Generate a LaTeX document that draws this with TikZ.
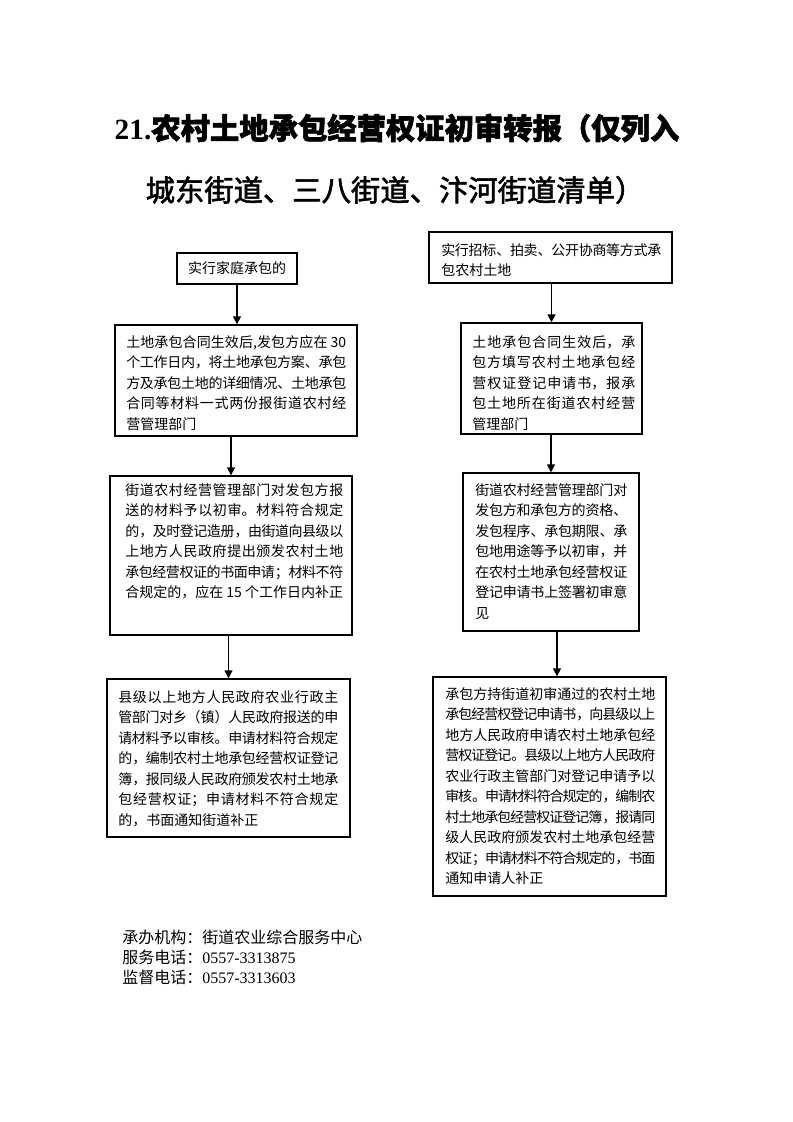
\documentclass[tikz,border=0pt]{standalone}
\usepackage{fontspec}
\setmainfont{Liberation Serif}
\newfontfamily\cjk{Noto Sans CJK SC}
\newfontfamily\cjkb{Noto Sans CJK SC}[FakeBold=2]
\usetikzlibrary{arrows.meta,fit}
\XeTeXlinebreaklocale "zh"
\XeTeXlinebreakskip=0pt plus 2pt minus 1pt
\tolerance=10000
\hbadness=10000
\begin{document}
\begin{tikzpicture}[x=0.75pt,y=-0.75pt,
  box/.style={draw, line width=1pt, inner sep=0pt},
  body/.style={anchor=north west, inner sep=0pt, align=justify,
    font=\cjk\fontsize{10.5pt}{15.4pt}\selectfont},
  arr/.style={line width=1pt, -{Triangle[length=6pt,width=6pt]}}]
\useasboundingbox (0,0) rectangle (793,1122);
\fill[white] (0,0) rectangle (793,1122);

% title
\node[font=\fontsize{22pt}{26pt}\selectfont] (title1) at (397,128)
  {\bfseries 21.{\cjkb 农村土地承包经营权证初审转报（仅列入}};
\node[font=\cjkb\fontsize{22pt}{26pt}\selectfont] (title2) at (395,190)
  {城东街道、三八街道、汴河街道清单）};

% left column boxes
\node[box, fit={(177,253) (297,284)}] (L1) {};
\node[box, fit={(115,325) (357,436)}] (L2) {};
\node[box, fit={(110,476) (352,635)}] (L3) {};
\node[box, fit={(107,679) (350,837)}] (L4) {};
% right column boxes
\node[box, fit={(429,232) (672,283)}] (R1) {};
\node[box, fit={(461,323) (642,434)}] (R2) {};
\node[box, fit={(463,473) (639,631)}] (R3) {};
\node[box, fit={(433,677) (666,896)}] (R4) {};

% texts
\node[font=\cjk\fontsize{10.5pt}{15.4pt}\selectfont, inner sep=0pt] (L1t) at (237,268) {实行家庭承包的};
\node[body, text width=165pt] (L2t) at (126,335) {土地承包合同生效后,发包方应在 30\linebreak 个工作日内，将土地承包方案、承包\linebreak 方及承包土地的详细情况、土地承包\linebreak 合同等材料一式两份报街道农村经\linebreak 营管理部门};
\node[body, text width=163.5pt] (L3t) at (125,483) {街道农村经营管理部门对发包方报\linebreak 送的材料予以初审。材料符合规定\linebreak 的，及时登记造册，由街道向县级以\linebreak 上地方人民政府提出颁发农村土地\linebreak 承包经营权证的书面申请；材料不符\linebreak 合规定的，应在 15 个工作日内补正};
\node[body, text width=165pt] (L4t) at (118,690) {县级以上地方人民政府农业行政主\linebreak 管部门对乡（镇）人民政府报送的申\linebreak 请材料予以审核。申请材料符合规定\linebreak 的，编制农村土地承包经营权证登记\linebreak 簿，报同级人民政府颁发农村土地承\linebreak 包经营权证；申请材料不符合规定\linebreak 的，书面通知街道补正};
\node[body, text width=165pt] (R1t) at (441,243) {实行招标、拍卖、公开协商等方式承\linebreak 包农村土地};
\node[body, text width=122.25pt] (R2t) at (472,335) {土地承包合同生效后，承\linebreak 包方填写农村土地承包经\linebreak 营权证登记申请书，报承\linebreak 包土地所在街道农村经营\linebreak 管理部门};
\node[body, text width=114pt] (R3t) at (475,483) {街道农村经营管理部门对\linebreak 发包方和承包方的资格、\linebreak 发包程序、承包期限、承\linebreak 包地用途等予以初审，并\linebreak 在农村土地承包经营权证\linebreak 登记申请书上签署初审意\linebreak 见};
\node[body, text width=157.5pt] (R4t) at (445,687) {承包方持街道初审通过的农村土地\linebreak 承包经营权登记申请书，向县级以上\linebreak 地方人民政府申请农村土地承包经\linebreak 营权证登记。县级以上地方人民政府\linebreak 农业行政主管部门对登记申请予以\linebreak 审核。申请材料符合规定的，编制农\linebreak 村土地承包经营权证登记簿，报请同\linebreak 级人民政府颁发农村土地承包经营\linebreak 权证；申请材料不符合规定的，书面\linebreak 通知申请人补正};

% arrows
\draw[arr] (L1.south) -- (L1.south |- L2.north);
\draw[arr] (L3.north |- L2.south) -- (L3.north);
\draw[arr] (L4.north |- L3.south) -- (L4.north);
\draw[arr] (R2.north |- R1.south) -- (R2.north);
\draw[arr] (R3.north |- R2.south) -- (R3.north);
\draw[arr] ([xshift=4.5pt]R3.south) -- ([xshift=4.5pt]R3.south |- R4.north);

% footer
\node[anchor=north west, inner sep=0pt, align=left, font=\fontsize{12pt}{15pt}\selectfont] (foot) at (122,930)
  {{\cjk 承办机构：街道农业综合服务中心}\\{\cjk 服务电话：}0557-3313875\\{\cjk 监督电话：}0557-3313603};
\end{tikzpicture}
\end{document}
